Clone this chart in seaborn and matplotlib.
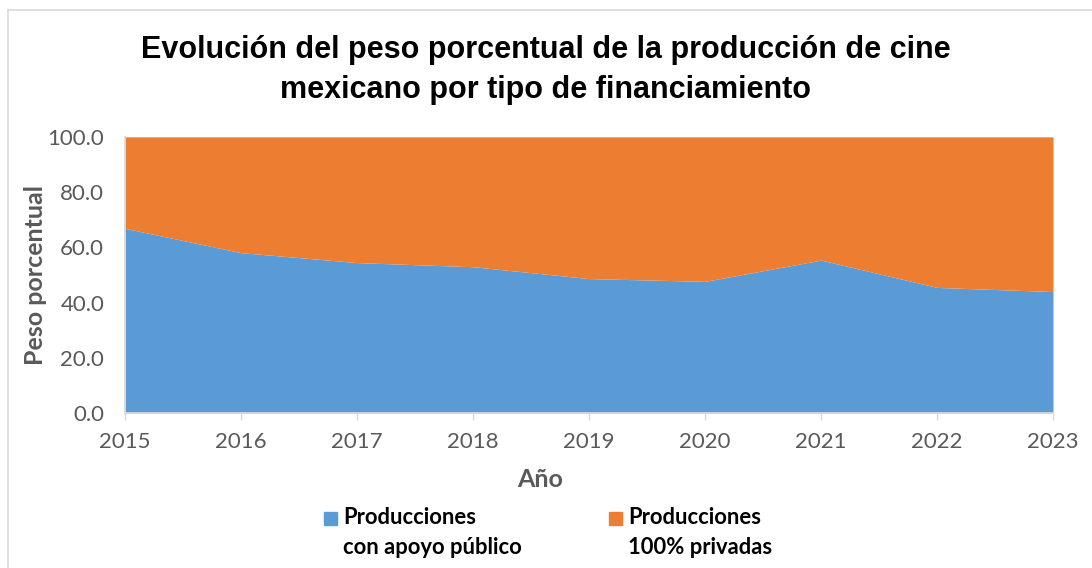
import seaborn as sns
import matplotlib.pyplot as plt
from matplotlib.patches import Rectangle
from matplotlib.lines import Line2D
import numpy as np

# data
years = [2015, 2016, 2017, 2018, 2019, 2020, 2021, 2022, 2023]
publico = [66.9, 58.1, 54.5, 53.0, 48.7, 47.7, 55.4, 45.5, 44.0]
privadas = [100 - v for v in publico]
series_names = ["Producciones\ncon apoyo público", "Producciones\n100% privadas"]
colors = ["#5B9BD5", "#ED7D31"]

sns.set_theme(style="white")
plt.rcParams['font.family'] = ['Lato', 'DejaVu Sans']

W, H = 1092, 568
fig = plt.figure(figsize=(W / 100, H / 100), dpi=100)
ax = fig.add_axes([125 / W, 1 - 413 / H, 928 / W, 276 / H])

ax.stackplot(years, publico, privadas, colors=colors, linewidth=0, zorder=2)

ax.set_xlim(years[0], years[-1])
ax.set_ylim(0, 100)
ax.set_xticks(years)
ax.set_yticks(np.arange(0, 101, 20))
ax.set_yticklabels([f"{v:.1f}" for v in np.arange(0, 101, 20)])
ax.yaxis.grid(True, color='#D9D9D9', linewidth=1, zorder=0)
ax.set_axisbelow(True)
ax.tick_params(axis='x', labelsize=16, labelcolor='#595959', color='#D9D9D9',
               length=5, width=1, direction='out', pad=9, bottom=True)
ax.tick_params(axis='y', labelsize=16, labelcolor='#595959', length=0, pad=15)

for s in ['top', 'right']:
    ax.spines[s].set_visible(False)
ax.spines['left'].set_color('#D9D9D9')
ax.spines['bottom'].set_color('#D9D9D9')
ax.spines['bottom'].set_zorder(3)

ax.set_xlabel("Año", fontsize=18, fontweight='bold', color='#595959', labelpad=11, x=0.447)
ax.set_ylabel("Peso porcentual", fontsize=18, fontweight='bold', color='#595959', labelpad=0)

fig.text(0.5, 1 - 70 / H, "Evolución del peso porcentual de la producción de cine\nmexicano por tipo de financiamiento",
         ha='center', va='center', fontsize=22, fontweight='bold', family='Liberation Sans',
         color='black', linespacing=1.42)

# legend drawn below the plot
leg_x = [324, 609]
for x, c, name in zip(leg_x, colors, series_names):
    fig.patches.append(Rectangle((x / W, 1 - 525 / H), 13 / W, 13 / H,
                                 transform=fig.transFigure, color=c))
    fig.text((x + 19) / W, 1 - 507.5 / H, name, ha='left', va='top',
             fontsize=15.8, fontweight='bold', color='black', linespacing=1.48)

# frame of the chart area (left and top edges visible)
fig.lines.append(Line2D([8 / W, 8 / W], [0, 1 - 10 / H], transform=fig.transFigure,
                        color='#D9D9D9', linewidth=1.2))
fig.lines.append(Line2D([8 / W, 1], [1 - 10 / H, 1 - 10 / H], transform=fig.transFigure,
                        color='#D9D9D9', linewidth=1.2))

fig.savefig("out.png", dpi=100)
